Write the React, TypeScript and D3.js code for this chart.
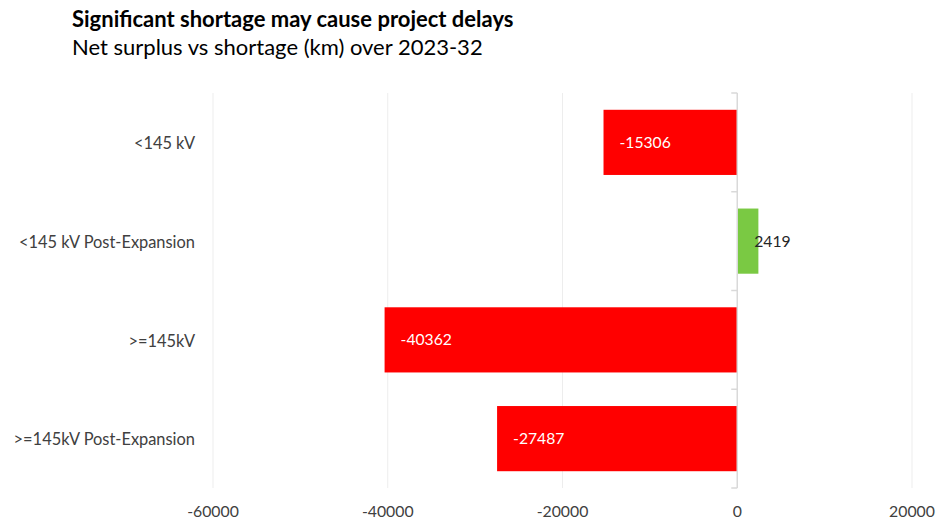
import { useEffect, useRef } from 'react'
import * as d3 from 'd3'

const categories = [
  '<145 kV',
  '<145 kV Post-Expansion',
  '>=145kV',
  '>=145kV Post-Expansion',
]
const netValues = [-15306, 2419, -40362, -27487]
const xTicks = [-60000, -40000, -20000, 0, 20000]

const W = 936
const H = 519
const FONT = 'Lato, "Open Sans", sans-serif'

const App = () => {
  const svgRef = useRef<SVGSVGElement>(null)

  useEffect(() => {
    const svg = d3.select(svgRef.current)
    svg.selectAll('*').remove()

    const margin = { top: 93, left: 213, right: 24, bottom: 31 }
    const x = d3
      .scaleLinear()
      .domain([xTicks[0], xTicks[xTicks.length - 1]])
      .range([margin.left, 912])
    const y = d3
      .scaleBand()
      .domain(categories)
      .range([margin.top, H - margin.bottom])
      .paddingInner(0.34)
      .paddingOuter(0.17)

    // titles
    svg
      .append('text')
      .attr('x', 72)
      .attr('y', 27)
      .attr('font-family', FONT)
      .attr('font-weight', 700)
      .attr('font-size', 22)
      .attr('fill', '#000')
      .text('Significant shortage may cause project delays')
    svg
      .append('text')
      .attr('x', 72)
      .attr('y', 55)
      .attr('font-family', FONT)
      .attr('font-size', 22)
      .attr('fill', '#000')
      .text('Net surplus vs shortage (km) over 2023-32')

    // gridlines
    svg
      .append('g')
      .selectAll('line')
      .data(xTicks.filter((t) => t !== 0))
      .enter()
      .append('line')
      .attr('x1', (d) => x(d))
      .attr('x2', (d) => x(d))
      .attr('y1', margin.top)
      .attr('y2', H - margin.bottom)
      .attr('stroke', '#ededed')
      .attr('stroke-width', 1)

    // bars
    svg
      .append('g')
      .selectAll('rect')
      .data(netValues)
      .enter()
      .append('rect')
      .attr('x', (d) => Math.min(x(d), x(0)))
      .attr('y', (_, i) => y(categories[i])!)
      .attr('width', (d) => Math.abs(x(d) - x(0)))
      .attr('height', y.bandwidth())
      .attr('fill', (d) => (d < 0 ? '#ff0000' : '#7ac943'))

    // zero axis with ticks between categories
    const axisG = svg.append('g')
    axisG
      .append('line')
      .attr('x1', x(0))
      .attr('x2', x(0))
      .attr('y1', margin.top)
      .attr('y2', H - margin.bottom)
      .attr('stroke', '#d9d9d9')
      .attr('stroke-width', 1.5)
    const bandH = (H - margin.bottom - margin.top) / categories.length
    const boundaries = d3.range(categories.length + 1).map((i) => margin.top + i * bandH)
    axisG
      .selectAll('line.tick')
      .data(boundaries)
      .enter()
      .append('line')
      .attr('class', 'tick')
      .attr('x1', x(0) - 6)
      .attr('x2', x(0))
      .attr('y1', (d) => d)
      .attr('y2', (d) => d)
      .attr('stroke', '#d9d9d9')
      .attr('stroke-width', 1.5)

    // value labels
    svg
      .append('g')
      .selectAll('text')
      .data(netValues)
      .enter()
      .append('text')
      .attr('x', (d) => (d < 0 ? x(d) + 16 : x(0) + 17))
      .attr('y', (_, i) => y(categories[i])! + y.bandwidth() / 2)
      .attr('dy', '0.35em')
      .attr('font-family', FONT)
      .attr('font-size', 15.7)
      .attr('fill', (d) => (d < 0 ? '#ffffff' : '#262626'))
      .text((d) => String(d))

    // category labels
    svg
      .append('g')
      .selectAll('text')
      .data(categories)
      .enter()
      .append('text')
      .attr('x', 195)
      .attr('y', (d) => y(d)! + y.bandwidth() / 2 + 1)
      .attr('dy', '0.35em')
      .attr('text-anchor', 'end')
      .attr('font-family', FONT)
      .attr('font-size', 16.4)
      .attr('fill', '#404040')
      .text((d) => d)

    // x tick labels
    svg
      .append('g')
      .selectAll('text')
      .data(xTicks)
      .enter()
      .append('text')
      .attr('x', (d) => x(d))
      .attr('y', 517)
      .attr('text-anchor', 'middle')
      .attr('font-family', FONT)
      .attr('font-size', 15.8)
      .attr('fill', '#404040')
      .text((d) => String(d))
  }, [])

  return (
    <svg
      ref={svgRef}
      width={W}
      height={H}
      style={{ position: 'absolute', left: 0, top: 0, background: '#fff' }}
    ></svg>
  )
}

export default App
